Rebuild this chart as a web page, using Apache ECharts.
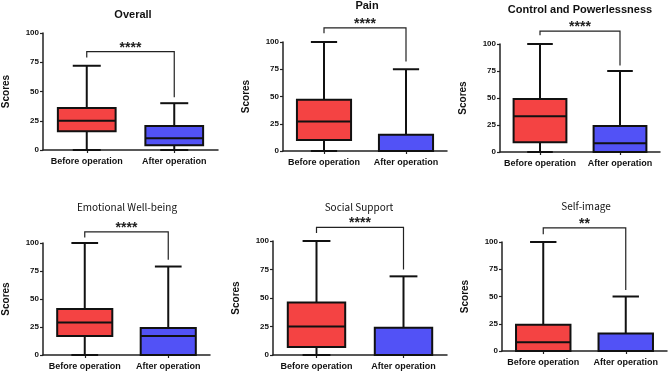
<!DOCTYPE html>
<html>
<head>
<meta charset="utf-8">
<script src="https://cdn.jsdelivr.net/npm/echarts@6/dist/echarts.min.js"></script>
<style>
  html, body { margin: 0; padding: 0; background: #fff; }
  #main { width: 669px; height: 371px; }
</style>
</head>
<body>
<div id="main"></div>
<script>
// panel data: [min, Q1, median, Q3, max]
var panelTitles = ['Overall', 'Pain', 'Control and Powerlessness', 'Emotional Well-being', 'Social Support', 'Self-image'];
var categories = ['Before operation', 'After operation'];
var beforeStats = [
    [0, 16, 25, 36, 72],
    [0, 10, 27, 47, 100],
    [0, 9, 33, 49, 100],
    [0, 17, 29, 41, 100],
    [0, 7, 25, 46, 100],
    [0, 0, 8, 24, 100]
];
var afterStats = [
    [0, 4, 10, 20.5, 40],
    [0, 0, 0, 15, 75],
    [0, 0, 8, 24, 75],
    [0, 0, 17, 24, 79],
    [0, 0, 0, 24, 69],
    [0, 0, 0, 16, 50]
];
var sigLabels = ['****', '****', '****', '****', '****', '**'];
// significance bracket: top, left drop end, right drop end (score units)
var bracketTop = [84, 113, 112, 110, 112, 113];
var bracketLeft = [79, 108, 108, 105, 107, 107];
var bracketRight = [45, 82, 80, 85, 75, 56];
var yMin = 0, yMax = 100, yStep = 25;

// layout of the six panels (px)
var grids = [
    { left: 43, top: 33, width: 175, height: 117 },
    { left: 283, top: 42, width: 164, height: 109 },
    { left: 500, top: 44, width: 160, height: 108 },
    { left: 42, top: 243, width: 168, height: 113 },
    { left: 273, top: 241, width: 174, height: 115 },
    { left: 502, top: 242, width: 165, height: 109 }
];
var titlePos = [
    [133, 15, true], [367, 6, true], [580, 10, true],
    [127, 207, false], [359, 207, false], [586, 206, false]
];

var RED = '#f44343';
var BLUE = '#5252f6';
var FONT = '"Liberation Sans", Arial, sans-serif';

var myChart = echarts.init(document.getElementById('main'));

function renderBox(params, api) {
    var x = api.value(0);
    var band = api.size([1, 0])[0];
    var bw = band * 0.66, cw = band * 0.32;
    var pMin = api.coord([x, api.value(1)]);
    var pQ1 = api.coord([x, api.value(2)]);
    var pMed = api.coord([x, api.value(3)]);
    var pQ3 = api.coord([x, api.value(4)]);
    var pMax = api.coord([x, api.value(5)]);
    var cx = pMin[0];
    var lineStyle = { stroke: '#111', lineWidth: 2 };
    return {
        type: 'group',
        children: [
            { type: 'line', shape: { x1: cx, y1: pMin[1], x2: cx, y2: pQ1[1] }, style: lineStyle },
            { type: 'line', shape: { x1: cx, y1: pQ3[1], x2: cx, y2: pMax[1] }, style: lineStyle },
            { type: 'line', shape: { x1: cx - cw / 2, y1: pMax[1], x2: cx + cw / 2, y2: pMax[1] }, style: lineStyle },
            { type: 'line', shape: { x1: cx - cw / 2, y1: pMin[1], x2: cx + cw / 2, y2: pMin[1] }, style: lineStyle },
            {
                type: 'rect',
                shape: { x: cx - bw / 2, y: pQ3[1], width: bw, height: pQ1[1] - pQ3[1] },
                style: { fill: params.dataIndex === 0 ? RED : BLUE, stroke: '#111', lineWidth: 2 }
            },
            { type: 'line', shape: { x1: cx - bw / 2, y1: pMed[1], x2: cx + bw / 2, y2: pMed[1] }, style: lineStyle }
        ]
    };
}

function renderBracket(params, api) {
    var top = api.value(0);
    var pL = api.coord([0, top]);
    var pR = api.coord([1, top]);
    var yL = api.coord([0, api.value(1)])[1];
    var yR = api.coord([1, api.value(2)])[1];
    var label = sigLabels[(params.seriesIndex - 1) / 2];
    return {
        type: 'group',
        children: [
            {
                type: 'polyline',
                shape: { points: [[pL[0], yL], [pL[0], pL[1]], [pR[0], pR[1]], [pR[0], yR]] },
                style: { stroke: '#222', lineWidth: 1.2, fill: null }
            },
            {
                type: 'text',
                style: {
                    text: label, x: (pL[0] + pR[0]) / 2, y: pL[1] - 4,
                    align: 'center', verticalAlign: 'middle',
                    font: 'bold 14px ' + FONT, fill: '#222'
                }
            }
        ]
    };
}

var gridList = [], xAxes = [], yAxes = [], series = [], graphics = [];
for (var i = 0; i < 6; i++) {
    gridList.push(grids[i]);
    xAxes.push({
        type: 'category', gridIndex: i, data: categories,
        axisLine: { lineStyle: { color: '#222', width: 1.5 } },
        axisTick: { show: true, alignWithLabel: true, length: 3, lineStyle: { color: '#222', width: 1.2 } },
        axisLabel: { interval: 0, color: '#111', fontWeight: 'bold', fontSize: 9, fontFamily: FONT, margin: 7 }
    });
    yAxes.push({
        type: 'value', gridIndex: i, min: yMin, max: yMax, interval: yStep,
        name: 'Scores', nameLocation: 'middle', nameGap: 32, nameRotate: 90,
        nameTextStyle: { color: '#111', fontWeight: 'bold', fontSize: 10, fontFamily: FONT },
        axisLine: { show: true, lineStyle: { color: '#222', width: 1.5 } },
        axisTick: { show: true, length: 3, lineStyle: { color: '#222', width: 1.2 } },
        axisLabel: { color: '#111', fontWeight: 'bold', fontSize: 8, fontFamily: FONT, margin: 4 },
        splitLine: { show: false }
    });
    series.push({
        type: 'custom', xAxisIndex: i, yAxisIndex: i, clip: false,
        renderItem: renderBox,
        data: [[0].concat(beforeStats[i]), [1].concat(afterStats[i])]
    });
    series.push({
        type: 'custom', xAxisIndex: i, yAxisIndex: i, clip: false,
        renderItem: renderBracket,
        data: [[bracketTop[i], bracketLeft[i], bracketRight[i]]]
    });
    graphics.push({
        type: 'text',
        x: titlePos[i][0], y: titlePos[i][1],
        style: {
            text: panelTitles[i], align: 'center', verticalAlign: 'middle',
            font: (titlePos[i][2] ? 'bold 11px ' : '10px ') + (titlePos[i][2] ? FONT : '"Noto Sans CJK JP", ' + FONT),
            fill: '#111'
        }
    });
}

option = {
    backgroundColor: '#fff',
    animation: false,
    grid: gridList,
    xAxis: xAxes,
    yAxis: yAxes,
    series: series,
    graphic: graphics
};

myChart.setOption(option);
</script>
</body>
</html>
